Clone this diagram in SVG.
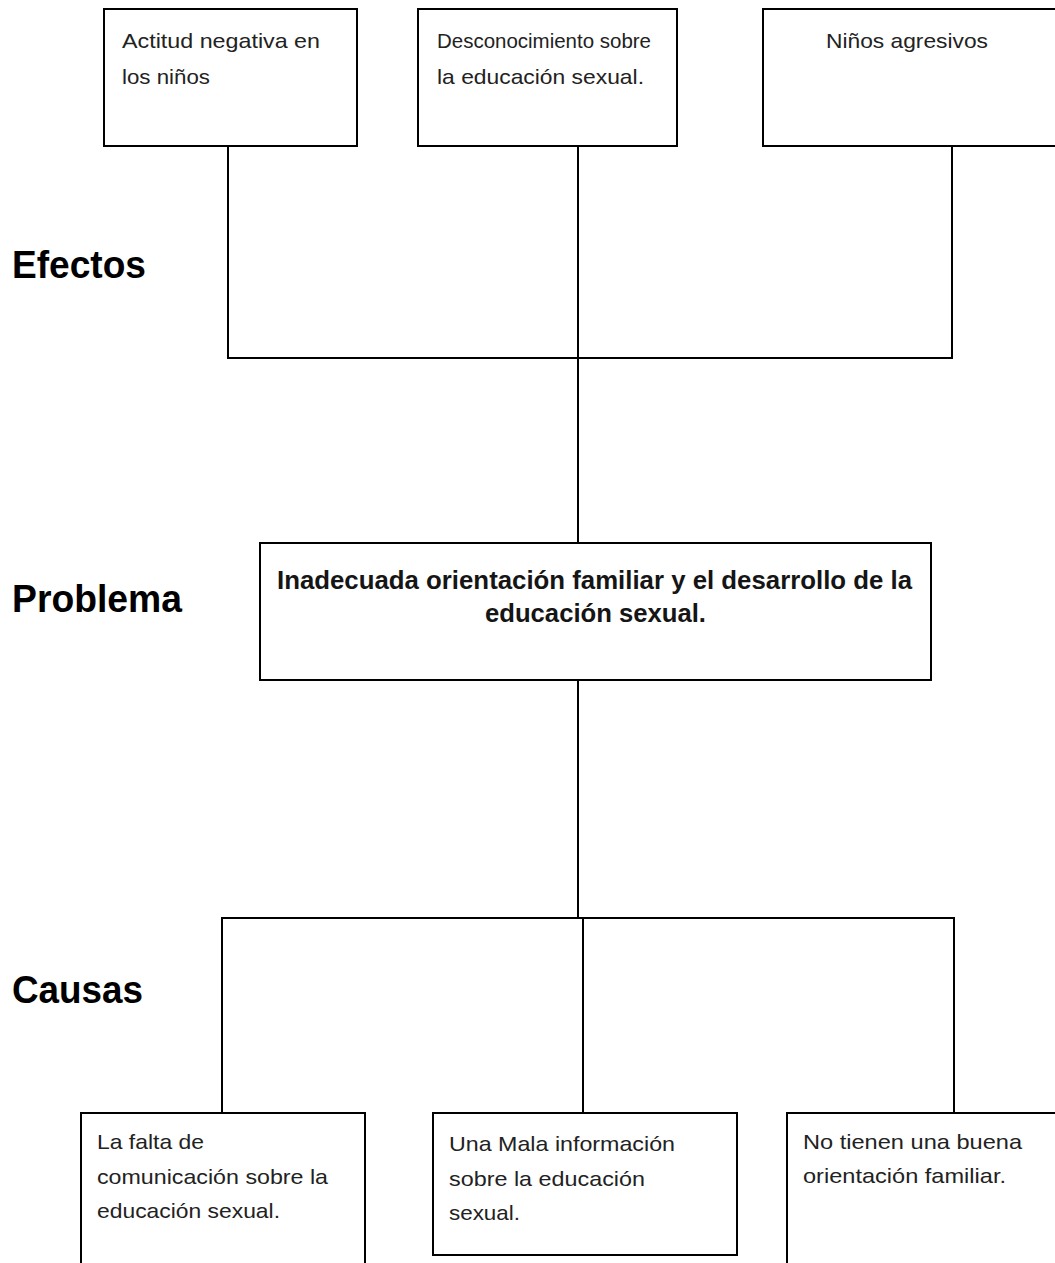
<svg xmlns="http://www.w3.org/2000/svg" width="1055" height="1263" viewBox="0 0 1055 1263">
<style>
.box{fill:#fff;stroke:#000;stroke-width:2}
.ln{fill:none;stroke:#000;stroke-width:2}
.t{font-family:"Liberation Sans",Arial,sans-serif;font-size:21px;fill:#222}
.p{font-family:"Liberation Sans",Arial,sans-serif;font-size:25px;font-weight:bold;fill:#151515}
.h{font-family:"Liberation Sans",Arial,sans-serif;font-size:39px;font-weight:bold;fill:#000}
</style>
<rect width="1055" height="1263" fill="#fff"/>
<g id="connectors">
<path class="ln" d="M228 146V358H952V146M578 146V543M578 680V918M222 1113V918H954V1113M583 918V1113"/>
</g>
<g id="label-efectos"><text class="h" x="12" y="278" textLength="134" lengthAdjust="spacingAndGlyphs">Efectos</text></g>
<g id="label-problema"><text class="h" x="12" y="612" textLength="170" lengthAdjust="spacingAndGlyphs">Problema</text></g>
<g id="label-causas"><text class="h" x="12" y="1003" textLength="131" lengthAdjust="spacingAndGlyphs">Causas</text></g>
<g id="effect1">
<rect class="box" x="104" y="9" width="253" height="137"/>
<text class="t" x="122" y="48" textLength="198" lengthAdjust="spacingAndGlyphs">Actitud negativa en</text>
<text class="t" x="122" y="84" textLength="88" lengthAdjust="spacingAndGlyphs">los niños</text>
</g>
<g id="effect2">
<rect class="box" x="418" y="9" width="259" height="137"/>
<text class="t" x="437" y="48" textLength="214" lengthAdjust="spacingAndGlyphs">Desconocimiento sobre</text>
<text class="t" x="437" y="84" textLength="207" lengthAdjust="spacingAndGlyphs">la educación sexual.</text>
</g>
<g id="effect3">
<rect class="box" x="763" y="9" width="300" height="137"/>
<text class="t" x="826" y="48" textLength="162" lengthAdjust="spacingAndGlyphs">Niños agresivos</text>
</g>
<g id="problem">
<rect class="box" x="260" y="543" width="671" height="137"/>
<text class="p" x="277" y="589" textLength="635" lengthAdjust="spacingAndGlyphs">Inadecuada orientación familiar y el desarrollo de la</text>
<text class="p" x="485" y="622" textLength="221" lengthAdjust="spacingAndGlyphs">educación sexual.</text>
</g>
<g id="cause1">
<rect class="box" x="81" y="1113" width="284" height="160"/>
<text class="t" x="97" y="1149" textLength="107" lengthAdjust="spacingAndGlyphs">La falta de</text>
<text class="t" x="97" y="1184" textLength="231" lengthAdjust="spacingAndGlyphs">comunicación sobre la</text>
<text class="t" x="97" y="1218" textLength="183" lengthAdjust="spacingAndGlyphs">educación sexual.</text>
</g>
<g id="cause2">
<rect class="box" x="433" y="1113" width="304" height="142"/>
<text class="t" x="449" y="1151" textLength="226" lengthAdjust="spacingAndGlyphs">Una Mala información</text>
<text class="t" x="449" y="1186" textLength="196" lengthAdjust="spacingAndGlyphs">sobre la educación</text>
<text class="t" x="449" y="1220" textLength="71" lengthAdjust="spacingAndGlyphs">sexual.</text>
</g>
<g id="cause3">
<rect class="box" x="787" y="1113" width="280" height="160"/>
<text class="t" x="803" y="1149" textLength="219" lengthAdjust="spacingAndGlyphs">No tienen una buena</text>
<text class="t" x="803" y="1183" textLength="203" lengthAdjust="spacingAndGlyphs">orientación familiar.</text>
</g>
</svg>
